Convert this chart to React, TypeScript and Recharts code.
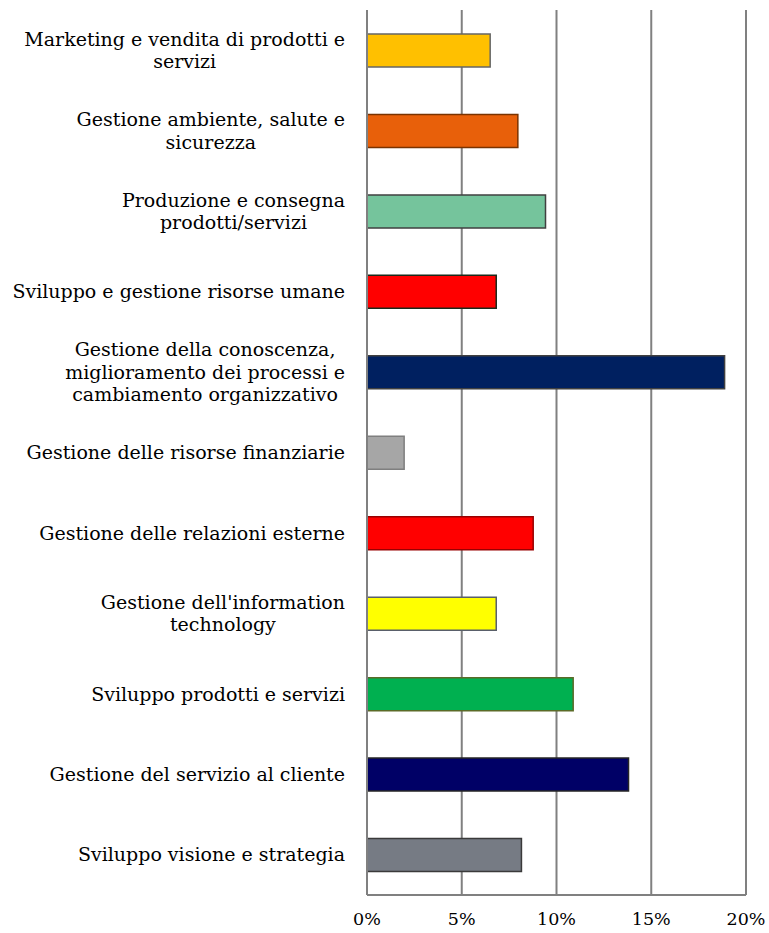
import React from 'react';
import { BarChart, Bar, XAxis, YAxis, CartesianGrid, Cell } from 'recharts';

const categories = [
  'Marketing e vendita di prodotti e\nservizi',
  'Gestione ambiente, salute e\nsicurezza',
  'Produzione e consegna\nprodotti/servizi',
  'Sviluppo e gestione risorse umane',
  'Gestione della conoscenza,\nmiglioramento dei processi e\ncambiamento organizzativo',
  'Gestione delle risorse finanziarie',
  'Gestione delle relazioni esterne',
  "Gestione dell'information\ntechnology",
  'Sviluppo prodotti e servizi',
  'Gestione del servizio al cliente',
  'Sviluppo visione e strategia',
];

const values = [6.5, 7.96, 9.42, 6.82, 18.87, 1.96, 8.77, 6.82, 10.88, 13.8, 8.15];

const fills = ['#FFC000', '#E8600A', '#75C49C', '#FF0000', '#002060', '#A6A6A6', '#FF0000', '#FFFF00', '#00B050', '#000066', '#767B84'];
const strokes = ['#666666', '#7A3300', '#404040', '#1A2A1A', '#404040', '#7F7F7F', '#990000', '#595F6A', '#5A6B28', '#262626', '#3A3A3A'];

const xTicks = [0, 5, 10, 15, 20];

const data = categories.map((c, i) => ({ name: c, value: values[i] }));

const FONT = '"DejaVu Serif", serif';
const FONT_SIZE = 19;
const LINE_H = 22.5;

let ctx: CanvasRenderingContext2D | null = null;
function measure(t: string): number {
  if (!ctx) {
    const c = document.createElement('canvas');
    ctx = c.getContext('2d');
  }
  if (!ctx) return t.length * FONT_SIZE * 0.55;
  ctx.font = `${FONT_SIZE}px "DejaVu Serif"`;
  return ctx.measureText(t).width;
}

const YTick = (props: any) => {
  const { x, y, payload } = props;
  const lines: string[] = String(payload.value).split('\n');
  const maxW = Math.max(...lines.map(measure));
  const cx = x - 14 - maxW / 2;
  const startY = y - ((lines.length - 1) * LINE_H) / 2;
  return (
    <text x={cx} y={startY} textAnchor="middle" fontFamily={FONT} fontSize={FONT_SIZE} fill="#000">
      {lines.map((l, i) => (
        <tspan key={i} x={cx} y={startY + i * LINE_H} dy="0.35em">{l}</tspan>
      ))}
    </text>
  );
};

const XTick = (props: any) => {
  const { x, y, payload } = props;
  return (
    <text x={x} y={y} textAnchor="middle" fontFamily={FONT} fontSize={17.5} fill="#000" dy="0.71em">
      {payload.value}%
    </text>
  );
};

export default function App() {
  return (
    <div style={{ position: 'fixed', left: 0, top: 0, background: '#fff' }}>
      <BarChart
        width={769}
        height={933}
        data={data}
        layout="vertical"
        margin={{ top: 10, right: 23, bottom: 0, left: 0 }}
      >
        <CartesianGrid horizontal={false} vertical={true} stroke="#808080" strokeWidth={2} />
        <XAxis
          type="number"
          domain={[0, 20]}
          ticks={xTicks}
          tick={<XTick />}
          tickLine={false}
          axisLine={{ stroke: '#808080', strokeWidth: 2 }}
          height={38}
          tickSize={0}
          tickMargin={18}
          interval={0}
        />
        <YAxis
          type="category"
          dataKey="name"
          width={367}
          tick={<YTick />}
          tickLine={false}
          axisLine={{ stroke: '#808080', strokeWidth: 2 }}
          interval={0}
        />
        <Bar dataKey="value" barSize={33} isAnimationActive={false} strokeWidth={1.5}>
          {data.map((d, i) => (
            <Cell key={i} fill={fills[i]} stroke={strokes[i]} />
          ))}
        </Bar>
      </BarChart>
    </div>
  );
}
